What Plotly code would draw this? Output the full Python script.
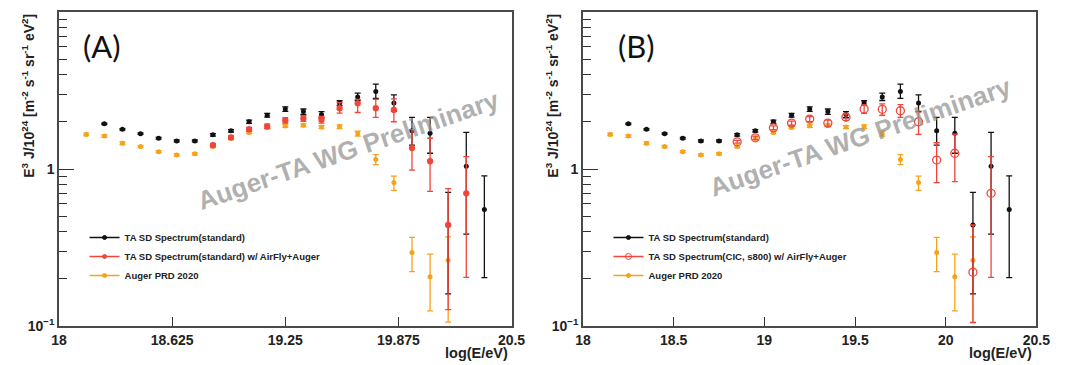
import plotly.graph_objects as go

# ---------------- data ----------------
ta_x = [18.25, 18.35, 18.45, 18.55, 18.65, 18.75, 18.85, 18.95, 19.05, 19.15, 19.25,
        19.35, 19.45, 19.55, 19.65, 19.75, 19.85, 19.95, 20.05, 20.15, 20.25, 20.35]
ta_y = [1.94, 1.79, 1.68, 1.57, 1.51, 1.51, 1.65, 1.75, 2.00, 2.20, 2.41,
        2.32, 2.22, 2.63, 2.88, 3.12, 2.63, 1.75, 1.69, 0.44, 1.04, 0.553]
ta_up = [0.02, 0.02, 0.02, 0.02, 0.02, 0.02, 0.03, 0.03, 0.05, 0.06, 0.08,
         0.09, 0.10, 0.09, 0.16, 0.35, 0.34, 0.38, 0.44, 0.27, 0.67, 0.35]
ta_dn = [0.02, 0.02, 0.02, 0.02, 0.02, 0.02, 0.03, 0.03, 0.05, 0.06, 0.08,
         0.09, 0.10, 0.09, 0.15, 0.30, 0.30, 0.33, 0.43, 0.28, 0.655, 0.35]

mod_x = [18.85, 18.95, 19.05, 19.15, 19.25, 19.35, 19.45, 19.55, 19.65, 19.75,
         19.85, 19.95, 20.05, 20.15, 20.25]
# (A) TA SD standard w/ AirFly+Auger
modA_y = [1.42, 1.59, 1.79, 1.87, 2.04, 2.10, 2.06, 2.44, 2.62, 2.44, 2.38, 1.36, 1.12, 0.44, 0.70]
modA_up = [0.03, 0.04, 0.05, 0.06, 0.08, 0.09, 0.10, 0.21, 0.16, 0.34, 0.42, 0.42, 0.45, 0.31, 0.50]
modA_dn = [0.03, 0.04, 0.05, 0.06, 0.08, 0.09, 0.10, 0.17, 0.33, 0.31, 0.38, 0.375, 0.40, 0.313, 0.496]
# (B) TA SD CIC s800 w/ AirFly+Auger
modB_y = [1.49, 1.58, 1.83, 1.96, 2.08, 1.96, 2.14, 2.41, 2.40, 2.35, 2.00, 1.14, 1.26, 0.22, 0.70]
modB_up = [0.03, 0.04, 0.05, 0.06, 0.08, 0.09, 0.10, 0.15, 0.20, 0.22, 0.30, 0.33, 0.41, 0.22, 0.50]
modB_dn = [0.03, 0.04, 0.05, 0.06, 0.08, 0.09, 0.10, 0.15, 0.20, 0.22, 0.34, 0.32, 0.43, 0.115, 0.496]

aug_x = [18.15, 18.25, 18.35, 18.45, 18.55, 18.65, 18.75, 18.85, 18.95, 19.05, 19.15,
         19.25, 19.35, 19.45, 19.55, 19.65, 19.75, 19.85, 19.95, 20.05, 20.15]
aug_y = [1.66, 1.62, 1.46, 1.39, 1.29, 1.23, 1.25, 1.39, 1.57, 1.71, 1.84,
         1.88, 1.90, 1.85, 1.86, 1.68, 1.15, 0.82, 0.294, 0.206, 0.262]
aug_up = [0.03, 0.03, 0.03, 0.02, 0.02, 0.02, 0.02, 0.02, 0.03, 0.03, 0.03,
          0.04, 0.04, 0.04, 0.05, 0.06, 0.085, 0.08, 0.073, 0.081, 0.108]
aug_dn = [0.03, 0.03, 0.03, 0.02, 0.02, 0.02, 0.02, 0.02, 0.03, 0.03, 0.03,
          0.04, 0.04, 0.04, 0.05, 0.06, 0.085, 0.09, 0.072, 0.081, 0.156]

xticksA = [18, 18.625, 19.25, 19.875, 20.5]
xticksB = [18, 18.5, 19, 19.5, 20, 20.5]
yticks = [0.1, 1, 10]
yticktext = ["10<sup>\u22121</sup>", "1", "10"]
yminor = [0.2, 0.3, 0.4, 0.5, 0.6, 0.7, 0.8, 0.9, 2, 3, 4, 5, 6, 7, 8, 9]

labelsA = ["TA SD Spectrum(standard)", "TA SD Spectrum(standard) w/ AirFly+Auger", "Auger PRD 2020"]
labelsB = ["TA SD Spectrum(standard)", "TA SD Spectrum(CIC, s800) w/ AirFly+Auger", "Auger PRD 2020"]

# ---------------- styles / geometry ----------------
BLACK = "#111111"
RED = "#f0463a"
ORANGE = "#f7a21b"
OFF = 8                      # page body margin of the html page
PAGE_W, PAGE_H = 1070, 365
W, H = PAGE_W - OFF, PAGE_H - OFF
PLOT_TOP, PLOT_BOT = 12, 326  # page pixels
MT = PLOT_TOP - OFF
MB = PAGE_H - PLOT_BOT
PH = H - MT - MB


def px_x(p):  # page pixel -> paper x
    return (p - OFF) / W


def px_y(p):  # page pixel -> paper y
    return (PLOT_BOT - p) / PH


def err(up, dn, color):
    return dict(type="data", symmetric=False, array=up, arrayminus=dn,
                color=color, thickness=1.3, width=3)


fig = go.Figure()

panels = [
    ("x", "y", "legend", labelsA, modA_y, modA_up, modA_dn, "circle"),
    ("x2", "y2", "legend2", labelsB, modB_y, modB_up, modB_dn, "circle-open"),
]
for xa, ya, lg, labels, my, mup, mdn, msym in panels:
    fig.add_trace(go.Scatter(x=aug_x, y=aug_y, mode="markers", xaxis=xa, yaxis=ya,
                             marker=dict(color=ORANGE, size=5, symbol="circle"),
                             error_y=err(aug_up, aug_dn, ORANGE), showlegend=False))
    fig.add_trace(go.Scatter(x=ta_x, y=ta_y, mode="markers", xaxis=xa, yaxis=ya,
                             marker=dict(color=BLACK, size=5),
                             error_y=err(ta_up, ta_dn, BLACK), showlegend=False))
    msize = 5 if msym == "circle" else 8
    fig.add_trace(go.Scatter(x=mod_x, y=my, mode="markers", xaxis=xa, yaxis=ya,
                             marker=dict(color=RED, size=msize, symbol=msym,
                                         line=dict(color=RED, width=1.3)),
                             error_y=err(mup, mdn, RED), showlegend=False))
    # legend entries
    for i, (lab, col, sym) in enumerate(zip(labels, [BLACK, RED, ORANGE],
                                            ["circle", msym, "circle"])):
        fig.add_trace(go.Scatter(x=[None], y=[None], mode="lines+markers", xaxis=xa, yaxis=ya,
                                 name=lab, legend=lg,
                                 line=dict(color=col, width=1.3),
                                 marker=dict(color=col, size=4 if sym == "circle" else 6,
                                             symbol=sym, line=dict(color=col, width=1))))

axis_common = dict(showline=True, linecolor="#4a4a4a", linewidth=1.6, mirror=True,
                   showgrid=False, zeroline=False, ticks="inside", tickcolor="#333",
                   tickwidth=1.3,
                   tickfont=dict(family="Arial", size=14, color="#222", weight="bold"))

xa_dom = [px_x(52), px_x(514)]
xb_dom = [px_x(587), px_x(1050)]
ymin = dict(tickvals=yminor, ticks="inside", ticklen=8, tickcolor="#333",
            tickwidth=1.2, showgrid=False)
leg_font = dict(family="Arial", size=9.5, color="#222", weight="bold")

fig.update_layout(
    width=W, height=H, margin=dict(l=0, r=0, t=MT, b=MB),
    paper_bgcolor="white", plot_bgcolor="white",
    xaxis=dict(domain=xa_dom, range=[18, 20.5], anchor="y", tickvals=xticksA,
               ticktext=[str(v) for v in xticksA], ticklen=9, **axis_common),
    yaxis=dict(domain=[0, 1], type="log", range=[-1, 1], anchor="x", tickvals=yticks,
               ticktext=yticktext, ticklen=15, minor=ymin, **axis_common),
    xaxis2=dict(domain=xb_dom, range=[18, 20.5], anchor="y2", tickvals=xticksB,
                ticktext=[str(v) for v in xticksB], ticklen=9, **axis_common),
    yaxis2=dict(domain=[0, 1], type="log", range=[-1, 1], anchor="x2", tickvals=yticks,
                ticktext=yticktext, ticklen=15, minor=ymin, **axis_common),
    legend=dict(x=px_x(78), y=px_y(223), xanchor="left", yanchor="top",
                bgcolor="rgba(0,0,0,0)", tracegroupgap=0, font=leg_font),
    legend2=dict(x=px_x(613), y=px_y(223), xanchor="left", yanchor="top",
                 bgcolor="rgba(0,0,0,0)", tracegroupgap=0, font=leg_font),
)

ytitle = ("E<sup>3</sup> J/10<sup>24</sup> [m<sup>-2</sup> s<sup>-1</sup> "
          "sr<sup>-1</sup> eV<sup>2</sup>]")
annots = []
for xc, wx, wy, xt_right in [(20, 348, 150, 512), (555, 870, 137, 1048)]:
    annots.append(dict(text=ytitle, x=px_x(xc), y=px_y(96), xref="paper", yref="paper",
                       showarrow=False, textangle=-90, xanchor="center", yanchor="middle",
                       font=dict(family="Arial", size=14, color="#222", weight="bold")))
    annots.append(dict(text="log(E/eV)", x=px_x(xt_right), y=px_y(353), xref="paper",
                       yref="paper", showarrow=False, xanchor="right", yanchor="middle",
                       font=dict(family="Arial", size=14.5, color="#222", weight="bold")))
    annots.append(dict(text="Auger-TA WG Preliminary", x=px_x(wx), y=px_y(wy), xref="paper",
                       yref="paper", showarrow=False, textangle=-19,
                       xanchor="center", yanchor="middle",
                       font=dict(family="Arial", size=26, color="rgba(150,150,150,0.75)",
                                 weight="bold")))
for lab, cx in [("(A)", 96), ("(B)", 642)]:
    annots.append(dict(text=lab, x=px_x(cx), y=px_y(46), xref="paper", yref="paper",
                       showarrow=False, xanchor="center", yanchor="middle",
                       font=dict(family="Lato", size=31, color="#111")))
fig.update_layout(annotations=annots)

fig.write_html("out.html")
